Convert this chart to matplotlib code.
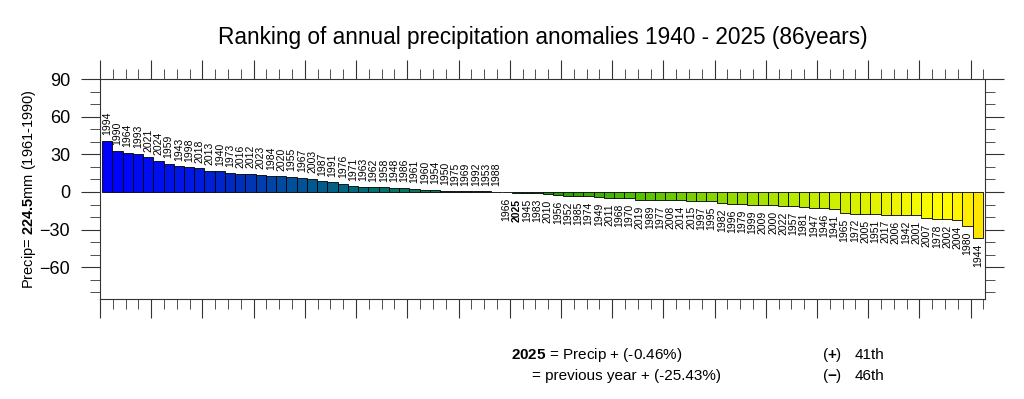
import numpy as np
import matplotlib
matplotlib.use("Agg")
import matplotlib.pyplot as plt
from matplotlib.colors import LinearSegmentedColormap
from matplotlib.ticker import MultipleLocator

plt.rcParams['font.family'] = ['Liberation Sans', 'DejaVu Sans']
plt.rcParams['mathtext.fontset'] = 'custom'
plt.rcParams['mathtext.rm'] = 'Liberation Sans'
plt.rcParams['mathtext.bf'] = 'Liberation Sans:bold'

# years sorted from wettest to driest
years = [1994, 1990, 1964, 1993, 2021, 2024, 1959, 1943, 1998, 2018,
         2013, 1940, 1973, 2016, 2012, 2023, 1984, 2020, 1955, 1967,
         2003, 1987, 1991, 1976, 1971, 1963, 1962, 1958, 1948, 1986,
         1961, 1960, 1954, 1950, 1975, 1969, 1992, 1953, 1988,
         1966, 2025, 1945, 1983, 2010, 1956, 1952, 1985, 1974, 1949,
         2011, 1968, 1970, 2019, 1989, 1977, 2008, 2014, 2015, 1997,
         1995, 1982, 1996, 1979, 1999, 2009, 2000, 2022, 1957, 1981,
         1947, 1946, 1941, 1965, 1972, 2005, 1951, 2017, 2006, 1942,
         2001, 2007, 1978, 2002, 2004, 1980, 1944]

# anomalies in mm
anom = [40.8, 32.7, 31.4, 30.3, 27.6, 24.9, 22.5, 20.4, 19.8, 19.0,
        16.9, 16.6, 15.5, 14.7, 14.6, 13.7, 13.1, 12.6, 12.3, 11.3,
        10.7, 8.4, 7.8, 6.7, 4.4, 4.3, 3.8, 3.6, 3.5, 3.4,
        2.7, 1.7, 1.6, 0.9, 0.7, 0.6, 0.6, 0.5, 0.2,
        -0.1, -1.03, -1.1, -1.2, -1.9, -2.7, -3.0, -3.0, -3.2, -4.0,
        -4.8, -4.8, -4.9, -6.1, -6.3, -6.4, -6.6, -6.7, -6.8, -7.2,
        -7.5, -8.5, -9.3, -9.7, -10.2, -10.2, -10.7, -11.2, -11.3, -12.1,
        -12.6, -12.7, -13.9, -16.6, -17.2, -17.7, -17.9, -18.0, -18.2, -18.4,
        -18.7, -21.1, -21.7, -21.8, -22.5, -26.8, -36.7]

title = "Ranking of annual precipitation anomalies 1940 - 2025 (86years)"
line1 = r"$\mathbf{2025}$ = Precip + (-0.46%)"
line2 = "= previous year + (-25.43%)"
rank_pos = "41th"
rank_neg = "46th"

cmap = LinearSegmentedColormap.from_list("rank", [
    (0.00, (0 / 255, 0 / 255, 255 / 255)),
    (0.10, (0 / 255, 25 / 255, 225 / 255)),
    (0.15, (0 / 255, 45 / 255, 190 / 255)),
    (0.20, (0 / 255, 75 / 255, 160 / 255)),
    (0.27, (0 / 255, 100 / 255, 130 / 255)),
    (0.33, (0 / 255, 118 / 255, 100 / 255)),
    (0.40, (0 / 255, 128 / 255, 75 / 255)),
    (0.45, (0 / 255, 135 / 255, 45 / 255)),
    (0.48, (10 / 255, 145 / 255, 10 / 255)),
    (0.52, (40 / 255, 160 / 255, 0 / 255)),
    (0.60, (80 / 255, 190 / 255, 5 / 255)),
    (0.70, (140 / 255, 215 / 255, 0 / 255)),
    (0.80, (190 / 255, 235 / 255, 0 / 255)),
    (0.90, (235 / 255, 245 / 255, 0 / 255)),
    (0.96, (255 / 255, 255 / 255, 0 / 255)),
    (1.00, (255 / 255, 230 / 255, 0 / 255)),
])

n = len(years)
xpos = np.arange(n) + 0.7
colors = [cmap(i / (n - 1)) for i in range(n)]

fig = plt.figure(figsize=(10.24, 3.99), dpi=100)
ax = fig.add_axes([100 / 1024, 1 - 299.3 / 399, 885 / 1024, 220.3 / 399])

ax.bar(xpos, anom, width=1.0, color=colors, edgecolor='black', linewidth=0.6)

for x, v, yr in zip(xpos, anom, years):
    if v > 0:
        ax.annotate(str(yr), (x, v), xytext=(0, 4), textcoords='offset points',
                    rotation=90, ha='center', va='bottom', fontsize=7.5)
    else:
        ax.annotate(str(yr), (x, v), xytext=(0, -4), textcoords='offset points',
                    rotation=90, ha='center', va='top', fontsize=7.5,
                    fontweight='bold' if yr == 2025 else 'normal')

ax.set_xlim(0, 86.4)
ax.set_ylim(-85.5, 90)
ax.xaxis.set_major_locator(MultipleLocator(5))
ax.xaxis.set_minor_locator(MultipleLocator(1.25))
ax.set_yticks([-60, -30, 0, 30, 60, 90])
ax.yaxis.set_minor_locator(MultipleLocator(10))
ax.tick_params(axis='both', which='both', direction='out', top=True, right=True,
               labelbottom=False, color='#333333')
ax.tick_params(axis='both', which='major', length=13.5, width=0.8)
ax.tick_params(axis='both', which='minor', length=7, width=0.6)
ax.tick_params(axis='y', labelsize=13, pad=8)
for s in ax.spines.values():
    s.set_linewidth(0.8)
    s.set_color('#333333')

ax.set_ylabel(r"Precip= $\mathbf{224.5}$mm (1961-1990)", fontsize=10.5, labelpad=1)
ax.set_title(title, fontsize=16.3, pad=25)

fig.text(511 / 1024, 1 - 355 / 399, line1, fontsize=11, va='center', ha='left')
fig.text(532 / 1024, 1 - 376 / 399, line2, fontsize=11, va='center', ha='left')
fig.text(822 / 1024, 1 - 355 / 399, r"($\mathbf{+}$)", fontsize=11, va='center', ha='left')
fig.text(822 / 1024, 1 - 376 / 399, r"($\mathbf{-}$)", fontsize=11, va='center', ha='left')
fig.text(855 / 1024, 1 - 355 / 399, rank_pos, fontsize=11, va='center', ha='left')
fig.text(855 / 1024, 1 - 376 / 399, rank_neg, fontsize=11, va='center', ha='left')

fig.savefig("out.png", dpi=100)
